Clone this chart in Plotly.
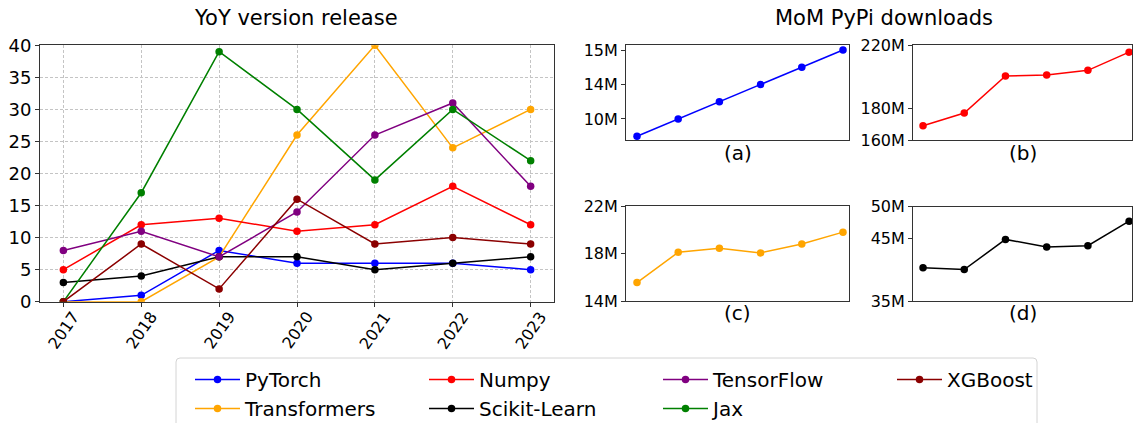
import plotly.graph_objects as go

W, H = 1133, 423
FONT = "DejaVu Sans"

# ---------------- data ----------------
years = [2017, 2018, 2019, 2020, 2021, 2022, 2023]
pytorch = [0, 1, 8, 6, 6, 6, 5]
transformers = [0, 0, 7, 26, 40, 24, 30]
numpy_rel = [5, 12, 13, 11, 12, 18, 12]
sklearn = [3, 4, 7, 7, 5, 6, 7]
tensorflow = [8, 11, 7, 14, 26, 31, 18]
jax = [0, 17, 39, 30, 19, 30, 22]
xgboost = [0, 9, 2, 16, 9, 10, 9]

months = [0, 1, 2, 3, 4, 5]
dl_a = [9, 10, 11, 12, 13, 14]
dl_a_tickvals = [10, 12, 14]
dl_a_ticktext = ["10M", "14M", "15M"]
dl_b = [169, 177, 200.5, 201, 204, 215.5]
dl_b_tickvals = [160, 180, 220]
dl_b_ticktext = ["160M", "180M", "220M"]
dl_c = [15.55, 18.1, 18.45, 18.05, 18.8, 19.8]
dl_c_tickvals = [14, 18, 22]
dl_c_ticktext = ["14M", "18M", "22M"]
dl_d = [40.3, 40.0, 44.8, 43.6, 43.8, 47.7]
dl_d_tickvals = [35, 45, 50]
dl_d_ticktext = ["35M", "45M", "50M"]

series = [
    ("PyTorch", pytorch, "blue", 1),
    ("Transformers", transformers, "orange", 5),
    ("Numpy", numpy_rel, "red", 2),
    ("Scikit-Learn", sklearn, "black", 6),
    ("TensorFlow", tensorflow, "purple", 3),
    ("Jax", jax, "green", 7),
    ("XGBoost", xgboost, "darkred", 4),
]


def px_x(x):
    return x / W


def px_y(y):
    return 1 - y / H


fig = go.Figure()
for name, vals, color, rank in series:
    fig.add_trace(go.Scatter(
        x=years, y=vals, name=name, mode="lines+markers",
        line=dict(color=color, width=1.5),
        marker=dict(color=color, size=7.5),
        legendrank=rank, xaxis="x", yaxis="y",
    ))

small = [
    (dl_a, "blue", "x2", "y2"),
    (dl_b, "red", "x3", "y3"),
    (dl_c, "orange", "x4", "y4"),
    (dl_d, "black", "x5", "y5"),
]
for vals, color, xa, ya in small:
    fig.add_trace(go.Scatter(
        x=months, y=vals, mode="lines+markers", showlegend=False,
        line=dict(color=color, width=1.5),
        marker=dict(color=color, size=7.5),
        xaxis=xa, yaxis=ya,
    ))

spine = "#333333"
tickfont_main = dict(family=FONT, size=18, color="black")
tickfont_small = dict(family=FONT, size=16, color="black")

common_frame = dict(showline=True, linecolor=spine, linewidth=1, mirror=True,
                    zeroline=False, automargin=False)
grid = dict(showgrid=True, gridcolor="#c4c4c4", griddash="3px,2px", gridwidth=1)

layout = dict(
    width=W, height=H,
    margin=dict(l=0, r=0, t=0, b=0, autoexpand=False),
    paper_bgcolor="white", plot_bgcolor="white",
    font=dict(family=FONT, color="black"),
    showlegend=True,
    xaxis=dict(domain=[px_x(40), px_x(554)], range=[2016.7, 2023.3],
               tickmode="array", tickvals=years, showticklabels=False,
               ticks="outside", ticklen=4, tickcolor=spine,
               **grid, **common_frame),
    yaxis=dict(domain=[px_y(301.7), px_y(45.3)], range=[0, 40], dtick=5,
               ticks="outside", ticklen=4, tickcolor=spine, tickfont=tickfont_main,
               **grid, **common_frame),
)

small_axes = [
    ("xaxis2", "yaxis2", "x2", "y2", [626, 849], [45, 140], [-0.267, 5.146], [8.78, 14.29], dl_a_tickvals, dl_a_ticktext),
    ("xaxis3", "yaxis3", "x3", "y3", [913, 1132], [45, 140], [-0.243, 5.07], [160, 220], dl_b_tickvals, dl_b_ticktext),
    ("xaxis4", "yaxis4", "x4", "y4", [626, 849], [206, 301], [-0.267, 5.146], [14, 22], dl_c_tickvals, dl_c_ticktext),
    ("xaxis5", "yaxis5", "x5", "y5", [913, 1132], [206.7, 301], [-0.243, 5.07], [35, 50], dl_d_tickvals, dl_d_ticktext),
]
for xk, yk, xid, yid, xd, yd, xr, yr, tv, tt in small_axes:
    layout[xk] = dict(domain=[px_x(xd[0]), px_x(xd[1])], range=xr, anchor=yid,
                      showticklabels=False, ticks="", showgrid=False, **common_frame)
    layout[yk] = dict(domain=[px_y(yd[1]), px_y(yd[0])], range=yr, anchor=xid,
                      tickmode="array", tickvals=tv, ticktext=tt,
                      ticks="outside", ticklen=4, tickcolor=spine,
                      tickfont=tickfont_small, showgrid=False, **common_frame)

annotations = []
for yr in years:
    annotations.append(dict(x=yr, xref="x", y=px_y(305), yref="paper",
                            text=str(yr), textangle=-55, showarrow=False,
                            xanchor="center", yanchor="top",
                            font=dict(family=FONT, size=16, color="black")))

annotations.append(dict(x=px_x(296), y=px_y(18), xref="paper", yref="paper",
                        text="YoY version release", showarrow=False,
                        xanchor="center", yanchor="middle",
                        font=dict(family=FONT, size=21, color="black")))
annotations.append(dict(x=px_x(883.5), y=px_y(18), xref="paper", yref="paper",
                        text="MoM PyPi downloads", showarrow=False,
                        xanchor="center", yanchor="middle",
                        font=dict(family=FONT, size=21, color="black")))
for lbl, cx, cy in [("(a)", 737.5, 153), ("(b)", 1023, 153), ("(c)", 737.5, 313), ("(d)", 1023, 313)]:
    annotations.append(dict(x=px_x(cx), y=px_y(cy), xref="paper", yref="paper",
                            text=lbl, showarrow=False, xanchor="center", yanchor="middle",
                            font=dict(family=FONT, size=20, color="black")))
layout["annotations"] = annotations

# legend frame (decoration)
x0, x1 = px_x(176), px_x(1037)
yt, yb = px_y(358), px_y(440)
dx, dy = 4 / W, 4 / H
path = (f"M {x0+dx},{yt} L {x1-dx},{yt} Q {x1},{yt} {x1},{yt-dy} L {x1},{yb} "
        f"L {x0},{yb} L {x0},{yt-dy} Q {x0},{yt} {x0+dx},{yt} Z")
layout["shapes"] = [dict(type="path", path=path, xref="paper", yref="paper",
                         line=dict(color="#d4d4d4", width=1), fillcolor="white",
                         layer="below")]

layout["legend"] = dict(orientation="h", x=px_x(190), xanchor="left",
                        y=px_y(360), yanchor="top",
                        font=dict(family=FONT, size=20, color="black"),
                        bgcolor="rgba(0,0,0,0)", borderwidth=0,
                        entrywidth=174, entrywidthmode="pixels", itemwidth=45,
                        traceorder="normal")

fig.update_layout(**layout)
fig.write_html(
    "out.html",
    config={"displayModeBar": False},
    post_script="document.body.style.margin='0';document.body.style.overflow='hidden';",
)
